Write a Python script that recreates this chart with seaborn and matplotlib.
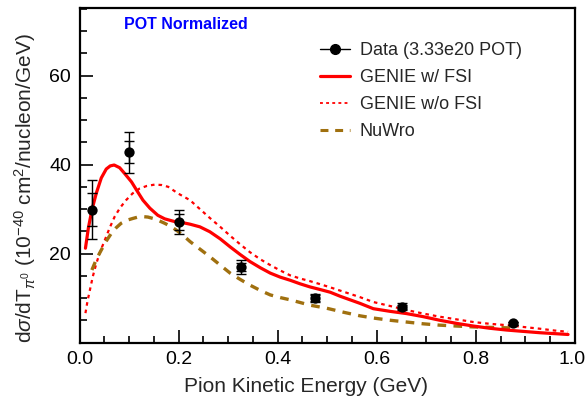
import numpy as np
import pandas as pd
import matplotlib
matplotlib.use("Agg")
import matplotlib.pyplot as plt
from matplotlib.lines import Line2D
from matplotlib.ticker import MultipleLocator, FuncFormatter
import seaborn as sns

# ---------------- data ----------------
data_x = [0.025, 0.1, 0.2, 0.325, 0.475, 0.65, 0.875]
data_y = [29.9, 42.8, 27.1, 16.9, 10.0, 8.0, 4.3]
data_stat = [3.7, 2.5, 1.9, 0.9, 0.6, 0.5, 0.3]
data_tot = [6.7, 4.6, 2.7, 1.6, 0.9, 0.8, 0.4]

fsi_x = [0.012, 0.018, 0.025, 0.034, 0.044, 0.054, 0.062, 0.070, 0.081, 0.091,
         0.105, 0.115, 0.128, 0.142, 0.158, 0.172, 0.185, 0.195, 0.210, 0.223,
         0.243, 0.263, 0.284, 0.304, 0.324, 0.344, 0.365, 0.385, 0.405, 0.425,
         0.445, 0.465, 0.486, 0.506, 0.526, 0.546, 0.566, 0.593, 0.627, 0.660,
         0.694, 0.727, 0.761, 0.795, 0.828, 0.862, 0.895, 0.929, 0.958, 0.986]
fsi_y = [21.2, 25.8, 29.8, 33.6, 37.0, 39.0, 39.7, 39.9, 39.3, 38.0,
         36.1, 34.3, 32.0, 30.2, 28.6, 27.8, 27.4, 27.1, 26.9, 26.6,
         26.0, 24.9, 23.3, 21.5, 19.8, 18.2, 16.8, 15.6, 14.7, 14.0,
         13.2, 12.5, 11.9, 11.3, 10.4, 9.6, 8.8, 7.6, 7.0, 6.5,
         5.8, 5.0, 4.3, 3.7, 3.2, 2.8, 2.5, 2.2, 2.0, 1.8]

nofsi_x = [0.012, 0.016, 0.021, 0.027, 0.034, 0.042, 0.051, 0.061, 0.071, 0.082,
           0.094, 0.107, 0.121, 0.136, 0.152, 0.166, 0.179, 0.199, 0.223, 0.243,
           0.263, 0.284, 0.304, 0.324, 0.344, 0.365, 0.385, 0.405, 0.425, 0.445,
           0.465, 0.486, 0.506, 0.536, 0.566, 0.593, 0.627, 0.660, 0.694, 0.727,
           0.761, 0.795, 0.828, 0.862, 0.895, 0.929, 0.958, 0.986]
nofsi_y = [6.6, 9.2, 11.8, 14.9, 17.8, 20.5, 23.0, 25.8, 28.3, 30.3,
           32.0, 33.5, 34.6, 35.2, 35.5, 35.4, 35.0, 33.5, 32.0, 30.0,
           28.0, 26.0, 24.0, 22.1, 20.3, 18.7, 17.4, 16.2, 15.1, 14.4,
           13.8, 13.1, 12.4, 11.3, 10.2, 9.1, 8.2, 7.3, 6.5, 5.8,
           5.2, 4.6, 4.2, 3.9, 3.5, 3.1, 2.7, 2.4]

nuwro_x = [0.025, 0.034, 0.044, 0.054, 0.064, 0.074, 0.084, 0.096, 0.108, 0.118,
           0.128, 0.138, 0.148, 0.160, 0.172, 0.184, 0.195, 0.209, 0.223, 0.243,
           0.263, 0.284, 0.304, 0.324, 0.344, 0.365, 0.385, 0.405, 0.425, 0.445,
           0.465, 0.499, 0.533, 0.566, 0.593, 0.627, 0.660, 0.694, 0.727, 0.761,
           0.795, 0.828, 0.862, 0.880]
nuwro_y = [16.3, 18.7, 20.8, 22.8, 24.5, 25.8, 26.8, 27.5, 27.9, 28.2,
           28.3, 28.2, 27.9, 27.4, 26.8, 26.1, 25.3, 24.1, 22.7, 21.0,
           19.3, 17.4, 15.6, 14.2, 12.9, 11.7, 10.7, 10.1, 9.6, 9.0,
           8.4, 7.7, 6.8, 6.0, 5.5, 5.0, 4.6, 4.2, 3.9, 3.7,
           3.5, 3.4, 3.3, 3.2]

legend_labels = ["Data (3.33e20 POT)", "GENIE w/ FSI", "GENIE w/o FSI", "NuWro"]
x_label = "Pion Kinetic Energy (GeV)"
y_label = r"d$\sigma$/dT$_{\pi^{0}}$ (10$^{-40}$ cm$^{2}$/nucleon/GeV)"
note = "POT Normalized"

# ---------------- style ----------------
sns.set_theme(style="ticks")
plt.rcParams["font.family"] = ["Liberation Sans", "DejaVu Sans"]
plt.rcParams["mathtext.fontset"] = "custom"
plt.rcParams["mathtext.rm"] = "Liberation Sans"
plt.rcParams["mathtext.it"] = "Liberation Sans:italic"
plt.rcParams["mathtext.bf"] = "Liberation Sans:bold"

RED = "#ff0000"
BROWN = "#a0700f"

fig = plt.figure(figsize=(5.87, 4.0), dpi=100)
ax = fig.add_axes([79.5 / 587, 57.5 / 400, 495.5 / 587, 334.5 / 400])

df_fsi = pd.DataFrame({"x": fsi_x, "y": fsi_y})
df_nofsi = pd.DataFrame({"x": nofsi_x, "y": nofsi_y})
df_nuwro = pd.DataFrame({"x": nuwro_x, "y": nuwro_y})

sns.lineplot(data=df_nofsi, x="x", y="y", ax=ax, color=RED, lw=1.6,
             linestyle=(0, (1.6, 1.8)), estimator=None, zorder=2)
sns.lineplot(data=df_nuwro, x="x", y="y", ax=ax, color=BROWN, lw=2.4,
             linestyle=(0, (2.6, 2.2)), estimator=None, zorder=2)
sns.lineplot(data=df_fsi, x="x", y="y", ax=ax, color=RED, lw=2.3,
             estimator=None, zorder=3)

# data: total and statistical error bars
ax.errorbar(data_x, data_y, yerr=data_tot, fmt="none", ecolor="black",
            elinewidth=1.0, capsize=3.5, capthick=1.0, zorder=4)
ax.errorbar(data_x, data_y, yerr=data_stat, fmt="none", ecolor="black",
            elinewidth=1.0, capsize=3.5, capthick=1.0, zorder=4)
sns.scatterplot(x=data_x, y=data_y, ax=ax, color="black", s=55,
                edgecolor="black", linewidth=0, zorder=5)

XMAX = 1.0
ax.set_xlim(0, XMAX)
ax.set_ylim(0, 75.2)
ax.xaxis.set_major_locator(MultipleLocator(0.2))
ax.xaxis.set_minor_locator(MultipleLocator(0.05))
ax.yaxis.set_minor_locator(MultipleLocator(5))
ax.set_yticks([20, 40, 60])
# last label ("1.0") is drawn separately, nudged inward so it is not clipped
ax.xaxis.set_major_formatter(
    FuncFormatter(lambda v, p: "" if abs(v - XMAX) < 1e-9 else f"{v:.1f}"))

ax.tick_params(which="both", direction="in", top=False, right=False,
               labelsize=14, colors="black", width=1.2)
ax.tick_params(which="major", length=9.5, pad=6)
ax.tick_params(which="minor", length=5)
for sp in ax.spines.values():
    sp.set_visible(True)
    sp.set_linewidth(1.6)
    sp.set_color("black")

ax.annotate(f"{XMAX:.1f}", xy=(XMAX, 0), xycoords=("data", "axes fraction"),
            xytext=(-2.0, -6.0), textcoords="offset points",
            ha="center", va="top", fontsize=14, color="black",
            annotation_clip=False)

ax.set_xlabel(x_label, fontsize=15, va="center")
ax.set_ylabel(y_label, fontsize=15, va="center")
ax.xaxis.set_label_coords(0.457, -0.133)
ax.yaxis.set_label_coords(-0.11, 0.462)

ax.text(0.09, 0.95, note, transform=ax.transAxes, color="#0000ff",
        fontsize=11.5, fontweight="bold", ha="left", va="center")

handles = [
    Line2D([0], [0], color="black", lw=1.0, marker="o", markersize=7),
    Line2D([0], [0], color=RED, lw=2.3),
    Line2D([0], [0], color=RED, lw=1.3, linestyle=(0, (1.6, 1.8))),
    Line2D([0], [0], color=BROWN, lw=2.2, linestyle=(0, (2.6, 2.2))),
]
leg = ax.legend(handles, legend_labels, loc="upper left",
                bbox_to_anchor=(0.485, 0.897), frameon=False, fontsize=13,
                handlelength=1.66, handletextpad=0.55, labelspacing=0.55,
                borderpad=0, borderaxespad=0)

fig.savefig("out.png", dpi=100)
